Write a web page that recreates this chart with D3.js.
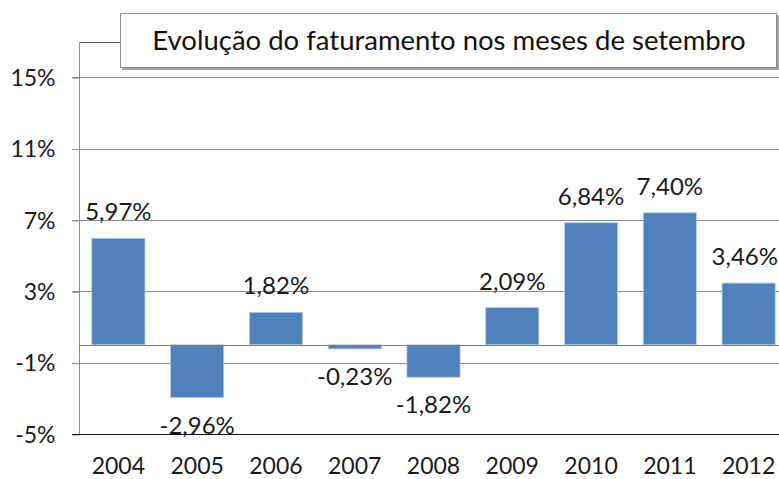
<!DOCTYPE html>
<html><head><meta charset="utf-8">
<script src="https://cdn.jsdelivr.net/npm/d3@7"></script>
<style>html,body{margin:0;padding:0;background:#fff;} svg{display:block;}</style>
</head><body>
<svg id="chart" width="779" height="479"></svg>
<script>
const years = ["2004","2005","2006","2007","2008","2009","2010","2011","2012"];
const values = [5.97, -2.96, 1.82, -0.23, -1.82, 2.09, 6.84, 7.40, 3.46];
const yTicks = [-5, -1, 3, 7, 11, 15];
const titleText = "Evolução do faturamento nos meses de setembro";

const svg = d3.select("#chart");
const W = 779;
const font = "Lato, 'Open Sans', sans-serif";
const plotL = 79, plotR = 788, plotT = 41.5, plotB = 434;

const x = d3.scaleBand().domain(years).range([plotL, plotR]).padding(0);
const y = d3.scaleLinear().domain([-5, 17]).range([plotB, plotT]);
const barW = x.bandwidth() * 0.675;
const fmt = v => v.toFixed(2).replace(".", ",") + "%";

// gridlines
svg.append("g").selectAll("line").data(yTicks.filter(t => t !== -5)).join("line")
  .attr("x1", plotL - 7).attr("x2", plotR)
  .attr("y1", d => Math.round(y(d)) + 0.5).attr("y2", d => Math.round(y(d)) + 0.5)
  .attr("stroke", "#8c8c8c").attr("stroke-width", 1);

// plot area border (top)
svg.append("line").attr("x1", plotL + 0.5).attr("x2", plotR).attr("y1", Math.round(plotT) + 0.5).attr("y2", Math.round(plotT) + 0.5)
  .attr("stroke", "#555").attr("stroke-width", 1);

// y axis
const yAxis = d3.axisLeft(y).tickValues(yTicks).tickSize(7).tickFormat(d => d + "%");
const gy = svg.append("g").attr("transform", `translate(${plotL + 0.5},0)`).call(yAxis);
gy.select(".domain").attr("stroke", "#8c8c8c").attr("d", `M0,${Math.round(plotT)}V${plotB}`);
gy.selectAll(".tick line").attr("stroke", "#8c8c8c").attr("transform", "translate(0,0.5)");
gy.selectAll(".tick text").attr("font-family", font).attr("font-size", 23).attr("fill", "#1a1a1a")
  .attr("x", -24).attr("dy", "0.36em");

// bottom line at -5%
svg.append("line").attr("x1", plotL - 7).attr("x2", plotR).attr("y1", plotB + 0.5).attr("y2", plotB + 0.5)
  .attr("stroke", "#111").attr("stroke-width", 1.2);

// bars
svg.append("g").selectAll("rect").data(years).join("rect")
  .attr("x", (d, i) => x(d) + (x.bandwidth() - barW) / 2)
  .attr("width", barW)
  .attr("y", (d, i) => y(Math.max(0, values[i])))
  .attr("height", (d, i) => Math.abs(y(values[i]) - y(0)))
  .attr("fill", "#4f81bd").attr("stroke", "#b9cde5").attr("stroke-width", 0.8);

// zero line
svg.append("line").attr("x1", plotL).attr("x2", plotR).attr("y1", Math.round(y(0)) + 0.5).attr("y2", Math.round(y(0)) + 0.5)
  .attr("stroke", "#7f7f7f").attr("stroke-width", 1);

// value labels
svg.append("g").selectAll("text").data(years).join("text")
  .attr("y", (d, i) => values[i] >= 0 ? y(values[i]) - 18 : y(values[i]) + 36)
  .attr("text-anchor", "middle").attr("font-family", font).attr("font-size", 24).attr("fill", "#1a1a1a")
  .text((d, i) => fmt(values[i]))
  .attr("x", function(d) {
    const c = x(d) + x.bandwidth() / 2;
    const half = this.getComputedTextLength() / 2;
    return Math.min(c, W - 1 - half);
  });

// x labels
svg.append("g").selectAll("text").data(years).join("text")
  .attr("x", d => x(d) + x.bandwidth() / 2).attr("y", 474)
  .attr("text-anchor", "middle").attr("font-family", font).attr("font-size", 23).attr("fill", "#1a1a1a")
  .text(d => d);

// title box
svg.append("rect").attr("x", 122).attr("y", 15).attr("width", 657).attr("height", 55).attr("fill", "#a6a6a6");
svg.append("rect").attr("x", 120.5).attr("y", 13.5).attr("width", 656).attr("height", 54)
  .attr("fill", "#fff").attr("stroke", "#8c8c8c").attr("stroke-width", 1);
svg.append("text").attr("x", 449).attr("y", 50).attr("text-anchor", "middle")
  .attr("font-family", font).attr("font-size", 27.5).attr("fill", "#111").text(titleText);
</script>
</body></html>
